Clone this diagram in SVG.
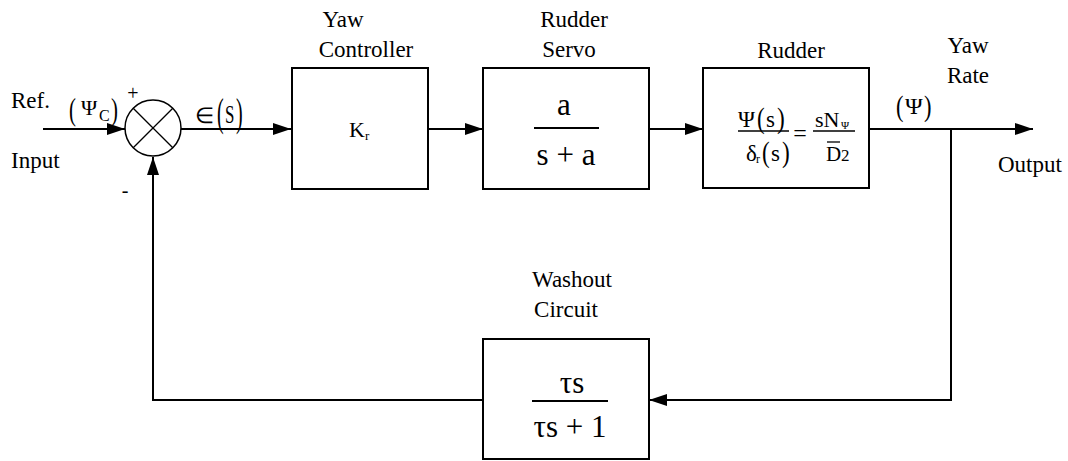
<svg xmlns="http://www.w3.org/2000/svg" width="1068" height="461" viewBox="0 0 1068 461">
  <defs>
    <marker id="arrow" viewBox="0 0 18 12" refX="18" refY="6" markerWidth="18" markerHeight="12" markerUnits="userSpaceOnUse" orient="auto">
      <path d="M0,0 L18,6 L0,12 Z" fill="#000"/>
    </marker>
    <style>
      .box { fill: #fff; stroke: #000; stroke-width: 2; }
      .wire { fill: none; stroke: #000; stroke-width: 2; }
      .thin { fill: none; stroke: #000; stroke-width: 1.3; }
      text { font-family: "Liberation Serif", "Times New Roman", serif; fill: #000; }
      .lbl { font-size: 23px; }
      .mid { text-anchor: middle; }
    </style>
  </defs>

  <!-- connectors -->
  <g id="connectors">
    <line class="wire" x1="43" y1="129" x2="125" y2="129" marker-end="url(#arrow)"/>
    <line class="wire" x1="181" y1="129" x2="291" y2="129" marker-end="url(#arrow)"/>
    <line class="wire" x1="428" y1="129" x2="483" y2="129" marker-end="url(#arrow)"/>
    <line class="wire" x1="649" y1="129" x2="703" y2="129" marker-end="url(#arrow)"/>
    <line class="wire" x1="869" y1="129" x2="1033" y2="129" marker-end="url(#arrow)"/>
    <polyline class="wire" points="951,129 951,400 649,400" marker-end="url(#arrow)"/>
    <polyline class="wire" points="483,400 153,400 153,157" marker-end="url(#arrow)"/>
  </g>

  <!-- summing junction -->
  <g id="sum">
    <circle cx="153" cy="128" r="28" fill="#fff" stroke="#000" stroke-width="1.5"/>
    <line class="thin" x1="133.2" y1="108.2" x2="172.8" y2="147.8"/>
    <line class="thin" x1="172.8" y1="108.2" x2="133.2" y2="147.8"/>
    <text x="133" y="100" font-size="20" text-anchor="middle">+</text>
    <text x="125" y="197" font-size="20" text-anchor="middle">-</text>
  </g>

  <!-- reference input -->
  <g id="ref-input">
    <text class="lbl" x="11" y="108">Ref.</text>
    <text class="lbl" x="11" y="168">Input</text>
    <text x="69" y="120" font-size="32" transform="translate(69 0) scale(0.65 1) translate(-69 0)">(</text>
    <text x="81" y="115" font-size="22">Ψ</text>
    <text x="99" y="121" font-size="16">C</text>
    <text x="111" y="120" font-size="32" transform="translate(111 0) scale(0.65 1) translate(-111 0)">)</text>
  </g>

  <!-- error signal -->
  <g id="error">
    <text x="195" y="123" font-size="22">∈</text>
    <text x="217" y="126" font-size="40" transform="translate(217 0) scale(0.5 1) translate(-217 0)">(</text>
    <text x="225" y="123" font-size="26" transform="translate(225 0) scale(0.65 1) translate(-225 0)">S</text>
    <text x="236" y="126" font-size="40" transform="translate(236 0) scale(0.5 1) translate(-236 0)">)</text>
  </g>

  <!-- yaw controller -->
  <g id="yaw-controller">
    <text class="lbl mid" x="343" y="27">Yaw</text>
    <text class="lbl mid" x="366" y="57">Controller</text>
    <rect class="box" x="292" y="68" width="136" height="121"/>
    <text x="349" y="137" font-size="22">K<tspan font-size="13" dy="3">r</tspan></text>
  </g>

  <!-- rudder servo -->
  <g id="rudder-servo">
    <text class="lbl mid" x="574" y="27">Rudder</text>
    <text class="lbl mid" x="569" y="57">Servo</text>
    <rect class="box" x="483" y="68" width="166" height="121"/>
    <text class="mid" x="564" y="115" font-size="31">a</text>
    <line class="wire" x1="534" y1="128" x2="599" y2="128"/>
    <text class="mid" x="566" y="165" font-size="31">s + a</text>
  </g>

  <!-- rudder dynamics: Ψ(s)/δr(s) = sNΨ/D2 -->
  <g id="rudder">
    <text class="lbl mid" x="791" y="58">Rudder</text>
    <rect class="box" x="703" y="68" width="166" height="120"/>
    <text x="738" y="127" font-size="23">Ψ</text>
    <text x="757" y="128" font-size="29" transform="translate(757 0) scale(0.8 1) translate(-757 0)">(</text>
    <text x="766" y="127" font-size="23">s</text>
    <text x="777" y="128" font-size="29" transform="translate(777 0) scale(0.8 1) translate(-777 0)">)</text>
    <line class="thin" x1="738" y1="131" x2="789" y2="131"/>
    <text x="746" y="161" font-size="23">δ</text>
    <text x="756" y="163" font-size="12">r</text>
    <text x="762" y="162" font-size="29" transform="translate(762 0) scale(0.8 1) translate(-762 0)">(</text>
    <text x="771" y="161" font-size="23">s</text>
    <text x="782" y="162" font-size="29" transform="translate(782 0) scale(0.8 1) translate(-782 0)">)</text>
    <text class="mid" x="800" y="141" font-size="24">=</text>
    <text x="815" y="127" font-size="22">sN</text>
    <text x="841" y="129" font-size="11">Ψ</text>
    <line class="thin" x1="813" y1="131" x2="855" y2="131"/>
    <line class="thin" x1="827" y1="142" x2="840" y2="142"/>
    <text x="826" y="161" font-size="21">D</text>
    <text x="841" y="161" font-size="17">2</text>
  </g>

  <!-- output -->
  <g id="output">
    <text class="lbl mid" x="968" y="53">Yaw</text>
    <text class="lbl mid" x="968" y="83">Rate</text>
    <text x="896" y="116" font-size="30" transform="translate(896 0) scale(0.75 1) translate(-896 0)">(</text>
    <text x="905" y="114" font-size="24">Ψ</text>
    <text x="924" y="116" font-size="30" transform="translate(924 0) scale(0.75 1) translate(-924 0)">)</text>
    <text class="lbl" x="998" y="172">Output</text>
  </g>

  <!-- washout circuit -->
  <g id="washout">
    <text class="lbl mid" x="572" y="287">Washout</text>
    <text class="lbl mid" x="566" y="317">Circuit</text>
    <rect class="box" x="483" y="339" width="166" height="120"/>
    <text class="mid" x="572" y="393" font-size="31">τs</text>
    <line class="wire" x1="532" y1="401" x2="608" y2="401"/>
    <text class="mid" x="570" y="437" font-size="31">τs + 1</text>
  </g>
</svg>
